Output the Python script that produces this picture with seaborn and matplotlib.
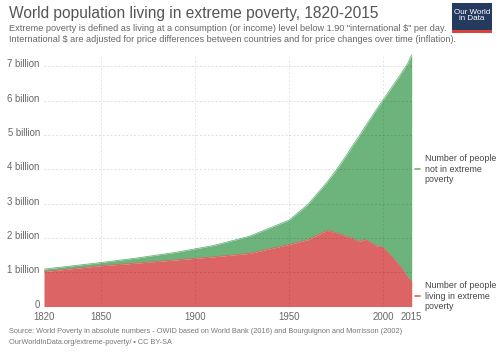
import matplotlib
matplotlib.use("Agg")
import matplotlib.pyplot as plt
import matplotlib.transforms as mtransforms
import seaborn as sns
import pandas as pd
from matplotlib.patches import Rectangle

years = [1820, 1850, 1870, 1890, 1910, 1929, 1950, 1960, 1970, 1975, 1980, 1984,
         1987, 1990, 1993, 1996, 1999, 2002, 2005, 2008, 2010, 2011, 2012, 2013, 2015]
total_pop = [1.09, 1.28, 1.42, 1.58, 1.78, 2.05, 2.52, 2.98, 3.62, 3.98, 4.38, 4.72,
             4.96, 5.22, 5.47, 5.72, 5.96, 6.20, 6.44, 6.68, 6.85, 6.93, 7.01, 7.10, 7.34]
poor = [1.02, 1.19, 1.27, 1.36, 1.45, 1.55, 1.81, 1.95, 2.22, 2.15, 2.05, 1.98,
        1.89, 1.96, 1.88, 1.77, 1.75, 1.60, 1.42, 1.23, 1.10, 1.00, 0.92, 0.85, 0.72]
y_ticks = [0, 1, 2, 3, 4, 5, 6, 7]
y_labels = ["0", "1 billion", "2 billion", "3 billion", "4 billion", "5 billion",
            "6 billion", "7 billion"]
x_ticks = [1820, 1850, 1900, 1950, 2000, 2015]

df = pd.DataFrame({"year": years, "total": total_pop, "poor": poor})
df["not_poor"] = df["total"] - df["poor"]

GREEN = "#6db47c"
RED = "#dd6464"
GRAY = "#666666"

sns.set_theme(style="white")
plt.rcParams["font.family"] = ["Liberation Sans", "DejaVu Sans"]

fig = plt.figure(figsize=(5.0, 3.53), dpi=100)
ax = fig.add_axes([0.088, 0.1317, 0.7354, 0.714])

ax.fill_between(df["year"], 0, df["poor"], color=RED, lw=0, zorder=2)
ax.fill_between(df["year"], df["poor"], df["total"], color=GREEN, lw=0, zorder=2)
sns.lineplot(data=df, x="year", y="poor", ax=ax, color=RED, lw=0.6, zorder=3)
sns.lineplot(data=df, x="year", y="total", ax=ax, color=GREEN, lw=0.6, zorder=3)

ax.set_xlim(1820, 2015)
ax.set_ylim(0, 7.35)
ax.set_xlabel("")
ax.set_ylabel("")
for s in ax.spines.values():
    s.set_visible(False)

for yv in y_ticks[1:]:
    ax.axhline(yv, color=(0, 0, 0, 0.13), lw=0.7, ls=(0, (2, 2)), zorder=4)
for xv in [1850, 1900, 1950, 2000]:
    ax.axvline(xv, color=(0, 0, 0, 0.10), lw=0.7, ls=(0, (2, 2)), zorder=4)

ax.set_yticks(y_ticks)
ax.set_yticklabels(y_labels)
ax.set_xticks(x_ticks)
ax.set_xticklabels([str(x) for x in x_ticks])
ax.tick_params(axis="both", length=0, labelsize=6.9, colors=GRAY)
ax.tick_params(axis="y", pad=3)
ax.tick_params(axis="x", pad=4)
offset = mtransforms.ScaledTranslation(0, 3 / 100, fig.dpi_scale_trans)
for lbl in ax.get_yticklabels():
    lbl.set_transform(lbl.get_transform() + offset)

# Right-side labels
y_green = 4.0
y_red = 0.3
ax.plot([2016.5, 2019.5], [y_green, y_green], color=GREEN, lw=1.2, clip_on=False)
ax.plot([2016.5, 2019.5], [y_red, y_red], color=RED, lw=1.2, clip_on=False)
ax.text(2022, y_green, "Number of people\nnot in extreme\npoverty", fontsize=6.4,
        color="#444444", va="center", ha="left", linespacing=1.2)
ax.text(2022, y_red, "Number of people\nliving in extreme\npoverty", fontsize=6.4,
        color="#444444", va="center", ha="left", linespacing=1.2)

# Title and subtitle
fig.text(0.018, 0.962, "World population living in extreme poverty, 1820-2015",
         fontsize=11.2, color="#555555", va="center", ha="left")
fig.text(0.018, 0.918,
         'Extreme poverty is defined as living at a consumption (or income) level below 1.90 "international $" per day.',
         fontsize=6.6, color=GRAY, va="center", ha="left")
fig.text(0.018, 0.888,
         "International $ are adjusted for price differences between countries and for price changes over time (inflation).",
         fontsize=6.6, color=GRAY, va="center", ha="left")

# Footer
fig.text(0.018, 0.062,
         "Source: World Poverty in absolute numbers - OWID based on World Bank (2016) and Bourguignon and Morrisson (2002)",
         fontsize=5.3, color="#777777", va="center", ha="left")
fig.text(0.018, 0.030, "OurWorldInData.org/extreme-poverty/ \u2022 CC BY-SA",
         fontsize=5.3, color="#777777", va="center", ha="left")

# Logo
lx, ly, lw_, lh = 452 / 500, 1 - 33 / 353, 40 / 500, 30 / 353
fig.patches.append(Rectangle((lx, ly), lw_, lh, transform=fig.transFigure,
                             facecolor="#243a5e", edgecolor="none"))
fig.patches.append(Rectangle((lx, ly), lw_, 3 / 353, transform=fig.transFigure,
                             facecolor="#d6453d", edgecolor="none"))
fig.text(lx + lw_ / 2, ly + lh * 0.58, "Our World\nin Data", fontsize=5.8,
         color="white", ha="center", va="center", linespacing=0.95)

fig.savefig("out.png", dpi=100)
